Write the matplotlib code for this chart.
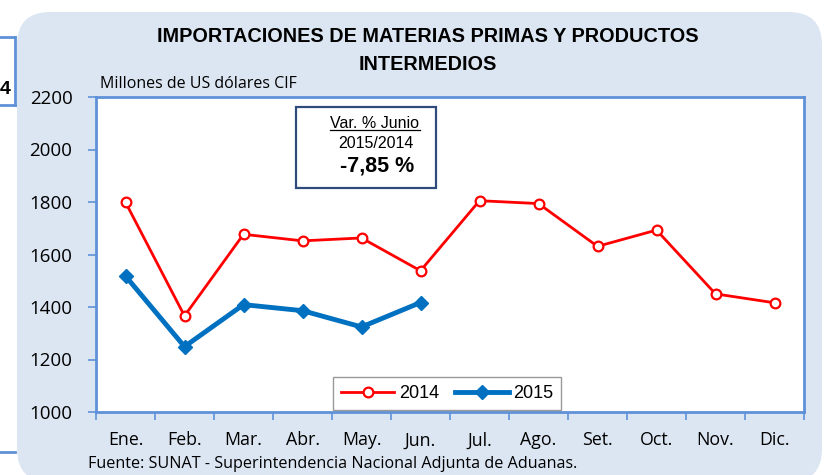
import matplotlib.pyplot as plt
from matplotlib.patches import FancyBboxPatch, Rectangle
from matplotlib.lines import Line2D

months = ['Ene.', 'Feb.', 'Mar.', 'Abr.', 'May.', 'Jun.',
          'Jul.', 'Ago.', 'Set.', 'Oct.', 'Nov.', 'Dic.']
imp_2014 = [1799, 1366, 1677, 1652, 1663, 1538, 1805, 1794, 1631, 1693, 1450, 1416]
imp_2015 = [1518, 1249, 1409, 1386, 1324, 1417]
y_ticks = [1000, 1200, 1400, 1600, 1800, 2000, 2200]

W, H = 827, 475
spine_blue = '#5f91d8'
panel_bg = '#dce6f2'
body_font = ['Open Sans', 'DejaVu Sans']
arial = ['Liberation Sans', 'DejaVu Sans']

fig = plt.figure(figsize=(W / 100, H / 100), dpi=100)
fig.patch.set_facecolor('white')

def fx(px):
    return px / W

def fy(py):
    return 1 - py / H

# rounded panel behind the chart
panel = FancyBboxPatch((fx(17), fy(482)), fx(805), 470 / H,
                       boxstyle='round,pad=0,rounding_size=0.04',
                       transform=fig.transFigure, facecolor=panel_bg,
                       edgecolor='none', mutation_aspect=W / H, zorder=-2)
fig.patches.append(panel)

# edge of the neighbouring table on the left
for y0 in (37, 105, 452):
    fig.add_artist(Line2D([0, fx(15)], [fy(y0), fy(y0)], color=spine_blue,
                          lw=2, transform=fig.transFigure, zorder=-1))
fig.add_artist(Line2D([fx(15), fx(15)], [fy(37), fy(105)], color=spine_blue,
                      lw=2, transform=fig.transFigure, zorder=-1))
fig.text(fx(5), fy(89), '4', fontsize=14, fontweight='bold', family=arial,
         ha='center', va='center')

ax = fig.add_axes([fx(96), fy(412), fx(804 - 96), (412 - 97) / H])
ax.set_facecolor('white')
ax.set_zorder(1)

x = list(range(len(months)))
ax.plot(x, imp_2014, color='#ff0000', lw=2, marker='o', ms=7,
        mfc='white', mec='#ff0000', mew=1.6, label='2014', zorder=3)
ax.plot(x[:len(imp_2015)], imp_2015, color='#0070c0', lw=3.5, marker='D',
        ms=7.5, mfc='#0070c0', mec='#0070c0', label='2015', zorder=4)

ax.set_xlim(-0.5, len(months) - 0.5)
ax.set_ylim(1000, 2200)
ax.set_yticks(y_ticks)
ax.set_yticklabels([str(v) for v in y_ticks], family=body_font, fontsize=13.5)

# month names centred, tick marks on the category boundaries
ax.set_xticks([i - 0.5 for i in range(len(months) + 1)])
ax.set_xticklabels([])
ax.set_xticks(x, minor=True)
ax.set_xticklabels(months, minor=True, family=body_font, fontsize=12.8)
ax.tick_params(axis='x', which='minor', length=0, pad=14)
ax.tick_params(axis='x', which='major', length=6, width=1.2, color=spine_blue)
ax.tick_params(axis='y', length=6, width=1.2, color=spine_blue, pad=11)

for side in ['left', 'bottom', 'top', 'right']:
    ax.spines[side].set_color(spine_blue)
    ax.spines[side].set_linewidth(2)

leg = ax.legend(loc='lower center', bbox_to_anchor=(0.496, 0.0), ncol=2,
                frameon=True, fancybox=False, prop={'family': arial, 'size': 13},
                handlelength=2.95, columnspacing=0.9, borderpad=0.45,
                handletextpad=0.25, borderaxespad=0.1)
leg.get_frame().set_edgecolor('#808080')
leg.get_frame().set_linewidth(1)

# variation box
box = Rectangle((fx(296), fy(188)), fx(436 - 296), (188 - 107) / H,
                transform=fig.transFigure, facecolor='white',
                edgecolor='#2f4b7c', lw=1.6, zorder=5)
fig.patches.append(box)
fig.text(fx(375), fy(123), 'Var. % Junio', family=arial, fontsize=11.5,
         ha='center', va='center', zorder=6)
fig.add_artist(Line2D([fx(330), fx(420)], [fy(130), fy(130)], color='black',
                      lw=0.9, transform=fig.transFigure, zorder=6))
fig.text(fx(376), fy(144), '2015/2014', family=arial, fontsize=11.5,
         ha='center', va='center', zorder=6)
fig.text(fx(377), fy(166), '-7,85 %', family=arial, fontsize=15.5,
         fontweight='bold', ha='center', va='center', zorder=6)

fig.text(fx(428), fy(37), 'IMPORTACIONES DE MATERIAS PRIMAS Y PRODUCTOS',
         family=arial, fontsize=14.3, fontweight='bold', ha='center', va='center')
fig.text(fx(428), fy(64), 'INTERMEDIOS', family=arial, fontsize=14.3,
         fontweight='bold', ha='center', va='center')
fig.text(fx(100), fy(84), 'Millones de US dólares CIF', family=body_font,
         fontsize=11.5, ha='left', va='center')
fig.text(fx(88), fy(464), 'Fuente: SUNAT - Superintendencia Nacional Adjunta de Aduanas.',
         family=body_font, fontsize=11.6, ha='left', va='center')

fig.savefig('out.png', dpi=100)
